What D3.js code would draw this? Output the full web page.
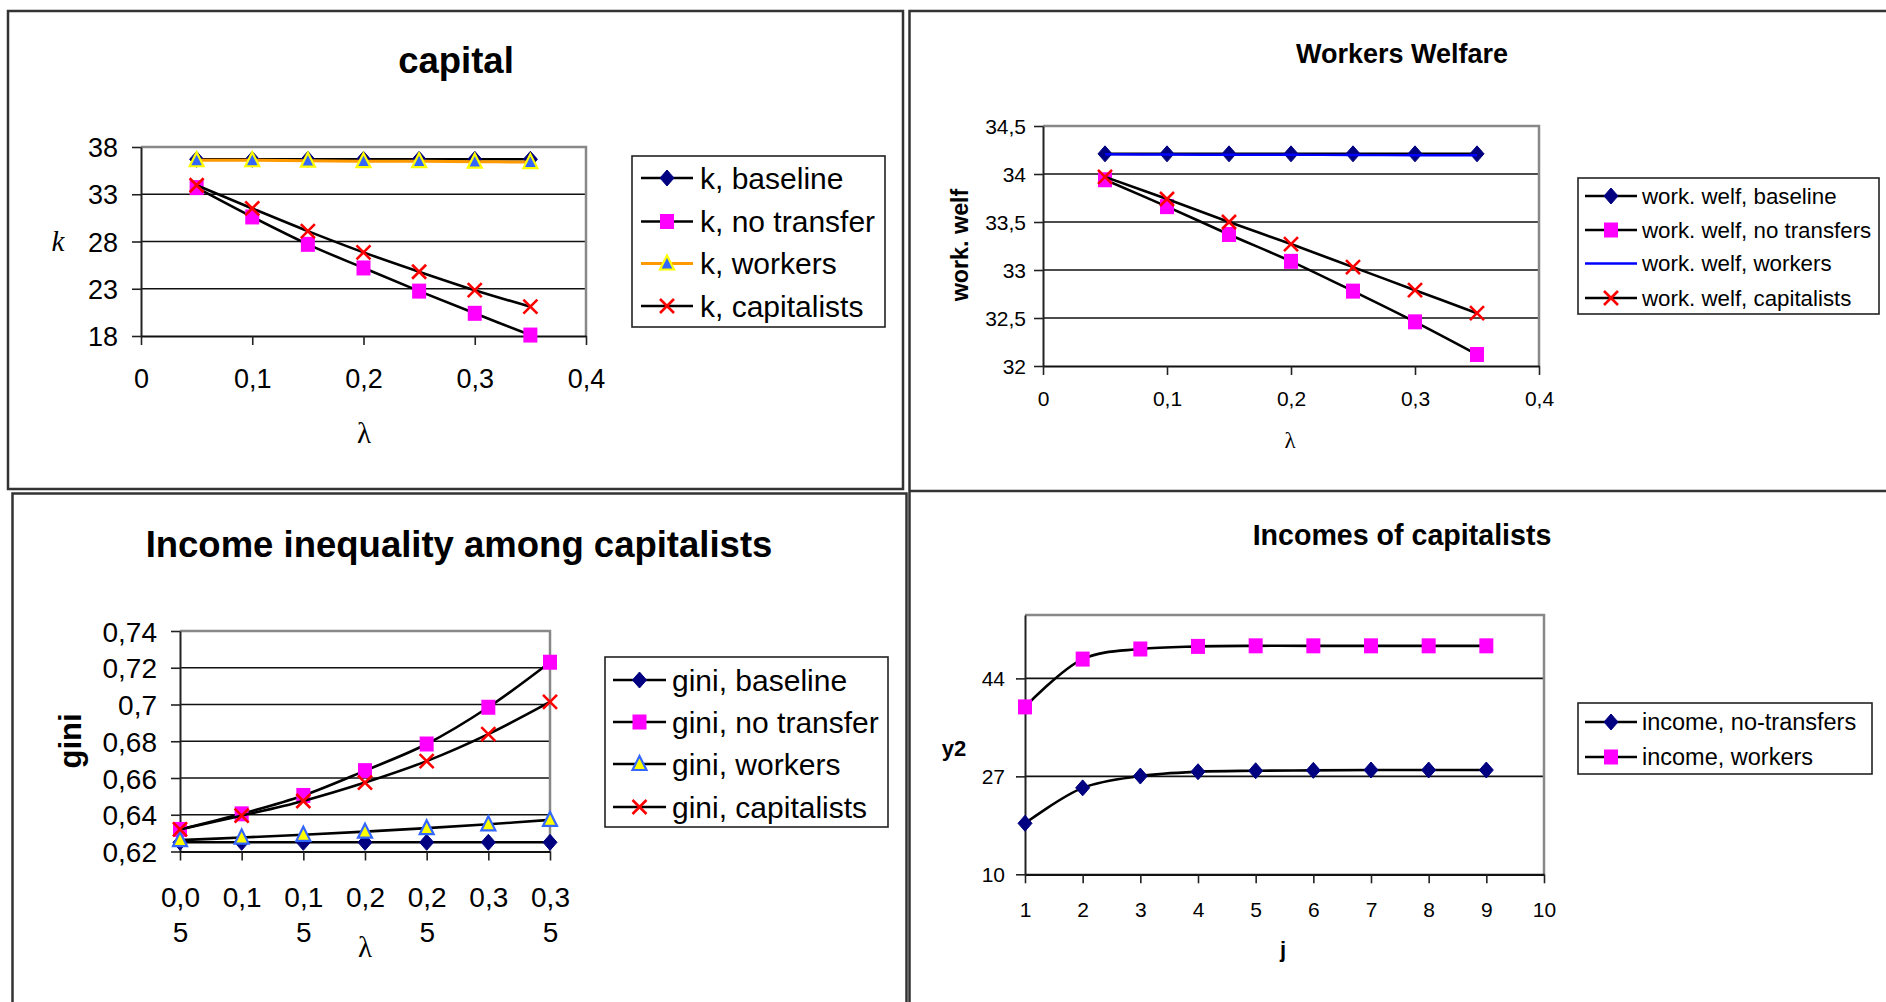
<!DOCTYPE html>
<html>
<head>
<meta charset="utf-8">
<script src="https://cdn.jsdelivr.net/npm/d3@7"></script>
<style>
  html, body { margin: 0; padding: 0; background: #fff; }
  svg { display: block; font-family: "Liberation Sans", Arial, sans-serif; }
</style>
</head>
<body>
<svg id="chart" width="1886" height="1002"></svg>
<script>
// ---- capital ----
const lambdaVals = [0.05, 0.1, 0.15, 0.2, 0.25, 0.3, 0.35];
const capitalXTicks = [0, 0.1, 0.2, 0.3, 0.4];
const capitalYTicks = [18, 23, 28, 33, 38];
const kBaseline = [36.7, 36.7, 36.7, 36.7, 36.7, 36.7, 36.7];
const kNoTransfer = [33.7, 30.6, 27.7, 25.2, 22.75, 20.4, 18.1];
const kWorkers = [36.6, 36.6, 36.55, 36.5, 36.5, 36.45, 36.4];
const kCapitalists = [33.95, 31.5, 29.1, 26.85, 24.8, 22.85, 21.1];

// ---- workers welfare ----
const welfXTicks = [0, 0.1, 0.2, 0.3, 0.4];
const welfYTicks = [32, 32.5, 33, 33.5, 34, 34.5];
const welfBaseline = [34.21, 34.21, 34.21, 34.21, 34.21, 34.21, 34.21];
const welfNoTransfers = [33.94, 33.66, 33.37, 33.09, 32.78, 32.46, 32.12];
const welfWorkers = [34.205, 34.203, 34.2, 34.2, 34.198, 34.196, 34.195];
const welfCapitalists = [33.97, 33.74, 33.5, 33.27, 33.03, 32.79, 32.55];

// ---- income inequality (gini) ----
const giniCategories = ["0,05", "0,1", "0,15", "0,2", "0,25", "0,3", "0,35"];
const giniYTicks = [0.62, 0.64, 0.66, 0.68, 0.7, 0.72, 0.74];
const giniBaseline = [0.625, 0.625, 0.625, 0.625, 0.625, 0.625, 0.625];
const giniNoTransfer = [0.632, 0.6405, 0.6505, 0.664, 0.6785, 0.6985, 0.723];
const giniWorkers = [0.6262, 0.6276, 0.6291, 0.6308, 0.6327, 0.6348, 0.6372];
const giniCapitalists = [0.632, 0.6395, 0.6475, 0.6575, 0.6692, 0.6839, 0.7014];

// ---- incomes of capitalists ----
const jVals = [1, 2, 3, 4, 5, 6, 7, 8, 9];
const jTicks = [1, 2, 3, 4, 5, 6, 7, 8, 9, 10];
const incomeYTicks = [10, 27, 44];
const incomeNoTransfers = [18.85, 25.0, 27.05, 27.8, 27.97, 28.04, 28.1, 28.1, 28.1];
const incomeWorkers = [39.05, 47.35, 49.1, 49.55, 49.65, 49.65, 49.65, 49.65, 49.65];

const NAVY = "#000080", MAGENTA = "#FF00FF", RED = "#FF0000";
const fmtComma = d => String(d).replace(".", ",");
const svg = d3.select("#chart");

// Panel frames
const frames = svg.append("g").attr("fill", "none").attr("stroke", "#333").attr("stroke-width", 2.5);
frames.append("rect").attr("x", 8).attr("y", 11).attr("width", 895).attr("height", 478);
frames.append("path").attr("d", "M1890,11H909.5V1010");
frames.append("path").attr("d", "M909.5,491H1890");
frames.append("path").attr("d", "M12.5,1010V493.5H906.5V1010");

function drawMarker(g, m, cx, cy) {
  if (!m) return;
  const s = m.size || 1;
  if (m.type === "diamond") {
    g.append("path")
      .attr("d", `M${cx},${cy - 8 * s}L${cx + 7 * s},${cy}L${cx},${cy + 8 * s}L${cx - 7 * s},${cy}Z`)
      .attr("fill", m.fill).attr("stroke", m.fill).attr("stroke-width", 1);
  } else if (m.type === "square") {
    g.append("rect").attr("x", cx - 7 * s).attr("y", cy - 7.5 * s)
      .attr("width", 14 * s).attr("height", 15 * s).attr("fill", m.fill);
  } else if (m.type === "triangle") {
    g.append("path")
      .attr("d", `M${cx},${cy - 8 * s}L${cx + 7 * s},${cy + 6 * s}L${cx - 7 * s},${cy + 6 * s}Z`)
      .attr("fill", m.fill).attr("stroke", m.stroke).attr("stroke-width", 2.2)
      .attr("stroke-linejoin", "miter");
  } else if (m.type === "x") {
    const r = 7 * s;
    g.append("path")
      .attr("d", `M${cx - r},${cy - r}L${cx + r},${cy + r}M${cx - r},${cy + r}L${cx + r},${cy - r}`)
      .attr("stroke", m.stroke).attr("stroke-width", 2.6).attr("fill", "none");
  }
}

function drawPanel(cfg) {
  const g = svg.append("g");
  const x = cfg.x, y = cfg.y;
  const [px0, px1] = x.range();
  const [py1, py0] = y.range();

  // gridlines (every labelled value strictly inside the plot area)
  const grid = cfg.yTicks.filter(d => y(d) < py1 - 1 && y(d) > py0 + 1);
  g.append("g").selectAll("line").data(grid).join("line")
    .attr("x1", px0).attr("x2", px1).attr("y1", d => y(d)).attr("y2", d => y(d))
    .attr("stroke", "#111").attr("stroke-width", 1.6);

  // plot-area border (top, right)
  g.append("path").attr("d", `M${px0},${py0}H${px1}V${py1}`)
    .attr("fill", "none").attr("stroke", "#888").attr("stroke-width", 2.5);

  // y axis
  const ya = g.append("g").attr("transform", `translate(${px0},0)`)
    .call(d3.axisLeft(y).tickValues(cfg.yTicks).tickSize(9).tickSizeOuter(0).tickFormat(fmtComma));
  ya.select(".domain").attr("stroke", "#222").attr("stroke-width", 2);
  ya.selectAll(".tick line").attr("stroke", "#222").attr("stroke-width", 1.6);
  ya.selectAll(".tick text").attr("x", -cfg.yLabelGap).attr("dy", "0.36em")
    .attr("font-size", cfg.tickFont).attr("fill", "#000")
    .style("font-family", '"Liberation Sans", Arial, sans-serif');

  // x axis
  const xa = g.append("g").attr("transform", `translate(0,${py1})`)
    .call(d3.axisBottom(x).tickValues(cfg.xTicks).tickSize(9).tickSizeOuter(0)
      .tickFormat(cfg.xFormat || fmtComma));
  xa.select(".domain").attr("stroke", "#111").attr("stroke-width", 2.2);
  xa.selectAll(".tick line").attr("stroke", "#222").attr("stroke-width", 1.6);
  xa.selectAll(".tick text").attr("y", cfg.xLabelBase).attr("dy", 0)
    .attr("font-size", cfg.tickFont).attr("fill", "#000")
    .style("font-family", '"Liberation Sans", Arial, sans-serif');
  if (cfg.wrapX) {
    xa.selectAll(".tick text").each(function (d) {
      const t = d3.select(this);
      const parts = [d.slice(0, 3), d.slice(3)].filter(s => s.length);
      t.text(null);
      parts.forEach((p, i) => t.append("tspan").attr("x", 0)
        .attr("dy", i === 0 ? 0 : cfg.wrapGap).text(p));
    });
  }

  // series
  const line = d3.line().curve(d3.curveCatmullRom.alpha(0.5));
  cfg.series.forEach(s => {
    const pts = s.values.map((v, i) => [x(cfg.xVals[i]), y(v)]);
    g.append("path").attr("d", line(pts)).attr("fill", "none")
      .attr("stroke", s.color).attr("stroke-width", s.width || 2.6)
      .attr("stroke-linejoin", "round");
    const mg = g.append("g");
    pts.forEach(p => drawMarker(mg, s.marker, p[0], p[1]));
  });

  // title
  g.append("text").attr("x", cfg.title.x).attr("y", cfg.title.y)
    .attr("text-anchor", "middle").attr("font-weight", "bold")
    .attr("font-size", cfg.title.size).text(cfg.title.text);

  // axis titles
  cfg.labels.forEach(l => {
    const t = g.append("text").attr("text-anchor", "middle")
      .attr("font-size", l.size).text(l.text);
    if (l.bold) t.attr("font-weight", "bold");
    if (l.italic) t.attr("font-style", "italic");
    if (l.serif) t.style("font-family", '"Liberation Serif", "Times New Roman", serif');
    if (l.rotate) {
      t.attr("transform", `translate(${l.x},${l.y}) rotate(-90)`).attr("dy", "0.35em");
    } else {
      t.attr("x", l.x).attr("y", l.y);
    }
  });

  // legend
  const L = cfg.legend;
  const lg = g.append("g");
  lg.append("rect").attr("x", L.x).attr("y", L.y).attr("width", L.w).attr("height", L.h)
    .attr("fill", "#fff").attr("stroke", "#222").attr("stroke-width", 1.6);
  cfg.series.forEach((s, i) => {
    const ry = L.rows[i];
    lg.append("line").attr("x1", L.lx0).attr("x2", L.lx1).attr("y1", ry).attr("y2", ry)
      .attr("stroke", s.color).attr("stroke-width", s.width || 2.6);
    drawMarker(lg, s.marker, (L.lx0 + L.lx1) / 2, ry);
    lg.append("text").attr("x", L.tx).attr("y", ry).attr("dy", "0.35em")
      .attr("font-size", L.font).text(s.name);
  });
}

const mDiamond = { type: "diamond", fill: NAVY };
const mSquare = { type: "square", fill: MAGENTA };
const mX = { type: "x", stroke: RED };

// capital
drawPanel({
  x: d3.scaleLinear().domain([0, 0.4]).range([141, 586]),
  y: d3.scaleLinear().domain([18, 38]).range([336, 147]),
  xVals: lambdaVals, xTicks: capitalXTicks, yTicks: capitalYTicks,
  tickFont: 27, yLabelGap: 23, xLabelBase: 52,
  series: [
    { name: "k, baseline", values: kBaseline, color: "#000", marker: mDiamond },
    { name: "k, no transfer", values: kNoTransfer, color: "#000", marker: mSquare },
    { name: "k, workers", values: kWorkers, color: "#FF9900", width: 3,
      marker: { type: "triangle", fill: "#3366FF", stroke: "#FFFF00" } },
    { name: "k, capitalists", values: kCapitalists, color: "#000", marker: mX }
  ],
  title: { text: "capital", x: 456, y: 73, size: 36.5 },
  labels: [
    { text: "k", x: 58, y: 251, size: 29, italic: true, serif: true },
    { text: "λ", x: 364, y: 443, size: 29, serif: true }
  ],
  legend: { x: 632, y: 156, w: 253, h: 171, rows: [178, 221.5, 263.5, 306],
            lx0: 641, lx1: 693, tx: 700, font: 30 }
});

// workers welfare
drawPanel({
  x: d3.scaleLinear().domain([0, 0.4]).range([1043, 1539]),
  y: d3.scaleLinear().domain([32, 34.5]).range([366, 126]),
  xVals: lambdaVals, xTicks: welfXTicks, yTicks: welfYTicks,
  tickFont: 21, yLabelGap: 17, xLabelBase: 40,
  series: [
    { name: "work. welf, baseline", values: welfBaseline, color: "#000", marker: mDiamond },
    { name: "work. welf, no transfers", values: welfNoTransfers, color: "#000", marker: mSquare },
    { name: "work. welf, workers", values: welfWorkers, color: "#0000FF", width: 2.4, marker: null },
    { name: "work. welf, capitalists", values: welfCapitalists, color: "#000", marker: mX }
  ],
  title: { text: "Workers Welfare", x: 1402, y: 63, size: 27 },
  labels: [
    { text: "work. welf", x: 960, y: 245, size: 23.3, bold: true, rotate: true },
    { text: "λ", x: 1290, y: 448, size: 23, serif: true }
  ],
  legend: { x: 1578, y: 178, w: 301, h: 136, rows: [196, 230, 263.5, 298],
            lx0: 1585, lx1: 1637, tx: 1642, font: 22.3 }
});

// income inequality among capitalists
drawPanel({
  x: d3.scalePoint().domain(giniCategories).range([180, 550]).padding(0),
  y: d3.scaleLinear().domain([0.62, 0.74]).range([851.5, 631]),
  xVals: giniCategories, xTicks: giniCategories, yTicks: giniYTicks,
  xFormat: d => d, wrapX: true, wrapGap: 35.5,
  tickFont: 28, yLabelGap: 23, xLabelBase: 55,
  series: [
    { name: "gini, baseline", values: giniBaseline, color: "#000", marker: mDiamond },
    { name: "gini, no transfer", values: giniNoTransfer, color: "#000", marker: mSquare },
    { name: "gini, workers", values: giniWorkers, color: "#000",
      marker: { type: "triangle", fill: "#FFFF00", stroke: "#3366FF" } },
    { name: "gini, capitalists", values: giniCapitalists, color: "#000", marker: mX }
  ],
  title: { text: "Income inequality among capitalists", x: 459, y: 557, size: 36.5 },
  labels: [
    { text: "gini", x: 70, y: 741, size: 31, bold: true, rotate: true },
    { text: "λ", x: 365, y: 957, size: 29, serif: true }
  ],
  legend: { x: 605, y: 657, w: 283, h: 170, rows: [680, 722, 764, 807],
            lx0: 613, lx1: 666, tx: 672, font: 30 }
});

// incomes of capitalists
drawPanel({
  x: d3.scaleLinear().domain([1, 10]).range([1025, 1544]),
  y: d3.scaleLinear().domain([10, 55]).range([874.3, 615]),
  xVals: jVals, xTicks: jTicks, yTicks: incomeYTicks,
  tickFont: 21, yLabelGap: 20, xLabelBase: 43,
  series: [
    { name: "income, no-transfers", values: incomeNoTransfers, color: "#000", marker: mDiamond },
    { name: "income, workers", values: incomeWorkers, color: "#000", marker: mSquare }
  ],
  title: { text: "Incomes of capitalists", x: 1402, y: 545, size: 28.6 },
  labels: [
    { text: "y2", x: 954, y: 756, size: 22, bold: true },
    { text: "j", x: 1283, y: 957, size: 22, bold: true }
  ],
  legend: { x: 1578, y: 703, w: 294, h: 71, rows: [722, 757],
            lx0: 1585, lx1: 1637, tx: 1642, font: 23.5 }
});
</script>
</body>
</html>
